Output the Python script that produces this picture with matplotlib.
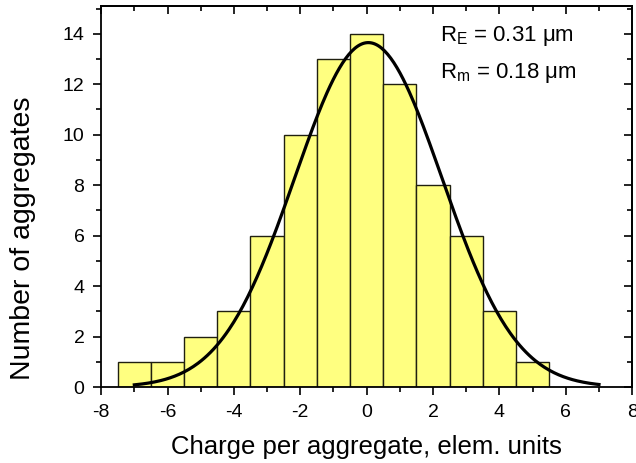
import matplotlib.pyplot as plt
import numpy as np
from matplotlib.ticker import MultipleLocator

plt.rcParams['font.family'] = ['Liberation Sans', 'DejaVu Sans']
plt.rcParams['mathtext.fontset'] = 'custom'
plt.rcParams['mathtext.rm'] = 'Liberation Sans'
plt.rcParams['mathtext.it'] = 'Liberation Sans'
plt.rcParams['axes.unicode_minus'] = False

# histogram: bin centres and counts
charge = [-7, -6, -5, -4, -3, -2, -1, 0, 1, 2, 3, 4, 5]
counts = [1, 1, 2, 3, 6, 10, 13, 14, 12, 8, 6, 3, 1]

# gaussian fit parameters
fit_xc = 0.05
fit_sigma = 2.22
fit_amp = 13.65
fit_range = (-7, 7)

fig = plt.figure(figsize=(6.36, 4.63), dpi=100)
ax = fig.add_axes([0.159, 0.164, 0.835, 0.823])

ax.bar(charge, counts, width=1.0, color='#ffff80', edgecolor='#202010', linewidth=1.0, zorder=2)

xf = np.linspace(fit_range[0], fit_range[1], 300)
yf = fit_amp * np.exp(-(xf - fit_xc) ** 2 / (2 * fit_sigma ** 2))
ax.plot(xf, yf, color='black', lw=2.3, zorder=3)

ax.set_xlim(-8, 8)
ax.set_ylim(0, 15.1)
ax.xaxis.set_major_locator(MultipleLocator(2))
ax.xaxis.set_minor_locator(MultipleLocator(1))
ax.yaxis.set_major_locator(MultipleLocator(2))
ax.yaxis.set_minor_locator(MultipleLocator(1))
ax.tick_params(which='both', direction='out', width=1.2, labelsize=14, pad=6)
ax.tick_params(which='major', length=6)
ax.tick_params(which='minor', length=3.5)
for s in ax.spines.values():
    s.set_linewidth(1.3)

# ticks on top and right pointing inward
top = ax.secondary_xaxis('top')
top.xaxis.set_major_locator(MultipleLocator(2))
top.xaxis.set_minor_locator(MultipleLocator(1))
top.tick_params(which='both', direction='in', width=1.2, labeltop=False)
top.tick_params(which='major', length=6)
top.tick_params(which='minor', length=3.5)
top.spines['top'].set_linewidth(1.3)
right = ax.secondary_yaxis('right')
right.yaxis.set_major_locator(MultipleLocator(2))
right.yaxis.set_minor_locator(MultipleLocator(1))
right.tick_params(which='both', direction='in', width=1.2, labelright=False)
right.tick_params(which='major', length=6)
right.tick_params(which='minor', length=3.5)
right.spines['right'].set_linewidth(1.3)

ax.set_xlabel('Charge per aggregate, elem. units', fontsize=18.5)
ax.set_ylabel('Number of aggregates', fontsize=20.5)
ax.xaxis.set_label_coords(0.5, -0.125)
ax.yaxis.set_label_coords(-0.122, 0.39)

ax.text(2.2, 13.9, r'R$_{\mathrm{E}}$ = 0.31 μm', fontsize=16, va='center', ha='left')
ax.text(2.2, 12.45, r'R$_{\mathrm{m}}$ = 0.18 μm', fontsize=16, va='center', ha='left')

fig.savefig('out.png', dpi=100)
